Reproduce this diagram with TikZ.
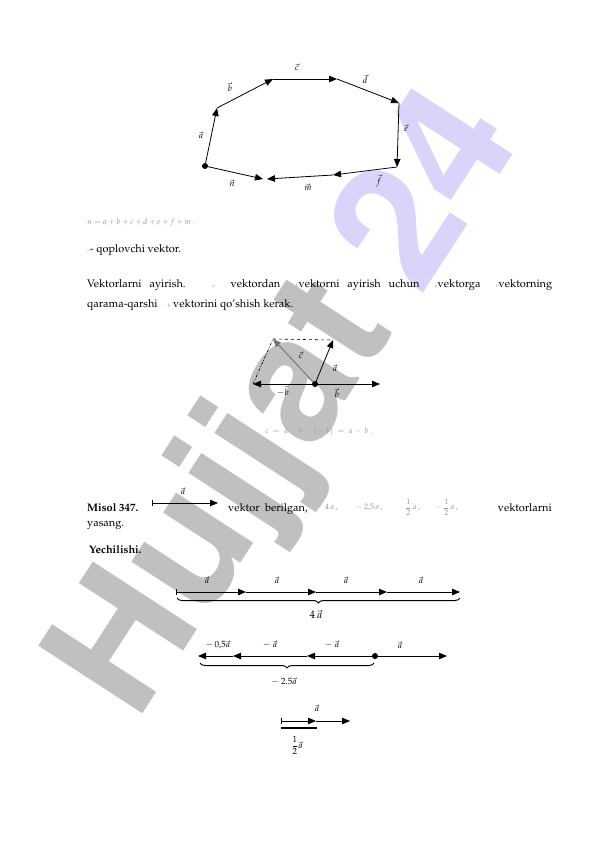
\documentclass[tikz,border=0pt]{standalone}
\usepackage[T1]{fontenc}
\usepackage{mathpazo}
\usetikzlibrary{arrows.meta,decorations.pathreplacing}
\definecolor{wmgray}{RGB}{192,192,192}
\definecolor{wmlav}{RGB}{218,212,250}
\definecolor{lightink}{RGB}{150,150,150}
\newcommand{\smv}[1]{{\color{lightink}\fontsize{5}{6}\selectfont$#1$}}
\begin{document}
\begin{tikzpicture}[x=1bp,y=-1bp,
  vec/.style={-{Triangle[length=8bp,width=6.5bp]},line width=0.8bp},
  barvec/.style={{Bar[width=6bp]}-{Triangle[length=8bp,width=6.5bp]},line width=0.8bp},
  lbl/.style={inner sep=0pt,font=\fontsize{9}{10}\selectfont},
  body/.style={anchor=base west,inner sep=0pt,font=\fontsize{11}{13}\selectfont},
  gform/.style={inner sep=0pt,text=lightink,font=\fontsize{8}{9}\selectfont},
  wmark/.style={anchor=base west,rotate=57,inner sep=0pt,
    font=\fontfamily{phv}\bfseries\fontsize{171}{171}\selectfont},
  brc/.style={decorate,decoration={brace,mirror,amplitude=5bp},line width=1bp}]
\useasboundingbox[fill=white] (0,0) rectangle (596,842);

% watermark
\node[wmark,text=wmgray] (wmH) at (136,724) {Hujjat};
\node[wmark,text=wmlav] (wm24) at (420,298) {24};

% polygon
\coordinate (P0) at (205,166);
\coordinate (P1) at (217,108);
\coordinate (P2) at (273,79);
\coordinate (P3) at (337,79);
\coordinate (P4) at (399,103);
\coordinate (P5) at (397,167);
\coordinate (P6) at (333,175);
\coordinate (P7) at (267,179);
\coordinate (Q) at (263,179);
\draw[vec] (P0) -- (P1);
\draw[vec] (P1) -- (P2);
\draw[vec] (P2) -- (P3);
\draw[vec] (P3) -- (P4);
\draw[vec] (P4) -- (P5);
\draw[vec] (P5) -- (P6);
\draw[vec] (P6) -- (P7);
\draw[vec] (P0) -- (Q);
\fill (P0) circle (3bp);
\node[lbl] (la) at (201,135) {$\vec a$};
\node[lbl] (lb) at (230,87) {$\vec b$};
\node[lbl] (lc) at (297,67) {$\vec c$};
\node[lbl] (ld) at (365,79) {$\vec d$};
\node[lbl] (le) at (406,128) {$\vec e$};
\node[lbl] (lf) at (379,181) {$\vec f$};
\node[lbl] (lm) at (308,187) {$\vec m$};
\node[lbl] (ln) at (232,183) {$\vec n$};

% text block 1
\node[gform,anchor=base west] (f1) at (87,224) {$n = a + b + c + d + e + f + m\;.$};
\node[body] (t1) at (87,252) {\smv{n}- qoplovchi vektor.};
\node[body] (t2) at (87,287) {\makebox[465bp][s]{Vektorlarni ayirish. \ \smv{a} \ vektordan \ \smv{b}vektorni ayirish uchun \ \smv{a}vektorga \ \smv{b}vektorning}};
\node[body] (t3) at (87,307) {qarama-qarshi \ \smv{-\,b} vektorini qo'shish kerak.};

% parallelogram
\coordinate (O) at (315,384);
\coordinate (L) at (253,384);
\coordinate (R) at (380,384);
\coordinate (A) at (333,340);
\coordinate (C) at (273,339);
\draw[dashed,line width=0.6bp] (C) -- (A);
\draw[dash pattern=on 3bp off 1.5bp on 1bp off 1.5bp,line width=0.6bp] (L) -- (C);
\draw[vec] (O) -- (R);
\draw[vec] (O) -- (L);
\draw[vec] (O) -- (A);
\draw[vec,draw=black!55,fill=black] (O) -- (C);
\fill (O) circle (3bp);
\node[lbl] (pc) at (301,355) {$\vec c$};
\node[lbl] (pa) at (335,368) {$\vec a$};
\node[lbl] (pmb) at (283,391) {$-\vec b$};
\node[lbl] (pb) at (337,393) {$\vec b$};
\node[gform,anchor=base west] (f2) at (265,433) {$c \;=\; a \quad+\quad (-\;b) \;=\; a -\; b\;.$};

% Misol
\node[body] (mi) at (87,511) {\textbf{Misol 347.}};
\coordinate (M0) at (152,503);
\coordinate (M1) at (218,503);
\draw[barvec] (M0) -- (M1);
\node[lbl] (ma) at (183,491) {$\vec a$};
\node[body] (vb) at (228,511) {vektor \ berilgan,};
\node[gform,anchor=west] (f3a) at (325,507) {$4\,a\,,$};
\node[gform,anchor=west] (f3b) at (355,507) {$-\;2{,}5\,a\,,$};
\node[gform,anchor=west] (f3c) at (405,507) {${\displaystyle\frac{1}{2}}\,a\,,$};
\node[gform,anchor=west] (f3d) at (434,507) {$-\;{\displaystyle\frac{1}{2}}\,a\,,$};
\node[body,anchor=base east] (vl) at (552,511) {vektorlarni};
\node[body] (ya) at (87,526) {yasang.};
\node[body] (ye) at (89,553) {\textbf{Yechilishi.}};

% 4a row
\coordinate (r0) at (176,592);
\coordinate (r1) at (246,592);
\coordinate (r2) at (316,592);
\coordinate (r3) at (387,592);
\coordinate (r4) at (460,592);
\draw[barvec] (r0) -- (r1);
\draw[vec] (r1) -- (r2);
\draw[vec] (r2) -- (r3);
\draw[vec] (r3) -- (r4);
\node[lbl] (ra1) at (207,580) {$\vec a$};
\node[lbl] (ra2) at (277,580) {$\vec a$};
\node[lbl] (ra3) at (346,580) {$\vec a$};
\node[lbl] (ra4) at (421,580) {$\vec a$};
\coordinate (b0) at (177,598);
\coordinate (b1) at (460,598);
\draw[brc] (b0) -- (b1);
\node[inner sep=0pt,font=\fontsize{11}{12}\selectfont] (r4a) at (316,614) {$4\,\vec a$};

% -2.5a row
\coordinate (O2) at (375,656);
\coordinate (s1) at (307,656);
\coordinate (s2) at (233,656);
\coordinate (s3) at (198,656);
\coordinate (s4) at (447,656);
\draw[vec] (O2) -- (s1);
\draw[vec] (s1) -- (s2);
\draw[vec] (s2) -- (s3);
\draw[vec] (O2) -- (s4);
\fill (O2) circle (3bp);
\node[lbl] (sa1) at (218,645) {$-\,0{,}5\vec a$};
\node[lbl] (sa2) at (270,645) {$-\;\vec a$};
\node[lbl] (sa3) at (332,645) {$-\;\vec a$};
\node[lbl] (sa4) at (400,645) {$\vec a$};
\coordinate (c0) at (200,663);
\coordinate (c1) at (374,663);
\draw[brc] (c0) -- (c1);
\node[lbl] (s25) at (284,682) {$-\;2.5\vec a$};

% 1/2 a row
\coordinate (u0) at (281,721);
\coordinate (u1) at (316,721);
\coordinate (u2) at (350,721);
\draw[barvec] (u0) -- (u1);
\draw[vec] (u1) -- (u2);
\coordinate (w0) at (281,728);
\coordinate (w1) at (317,728);
\draw[line width=1.6bp] (w0) -- (w1);
\node[lbl] (ua) at (317,708) {$\vec a$};
\node[lbl] (uh) at (297,745) {$\displaystyle\frac{1}{2}\vec a$};
\end{tikzpicture}
\end{document}
